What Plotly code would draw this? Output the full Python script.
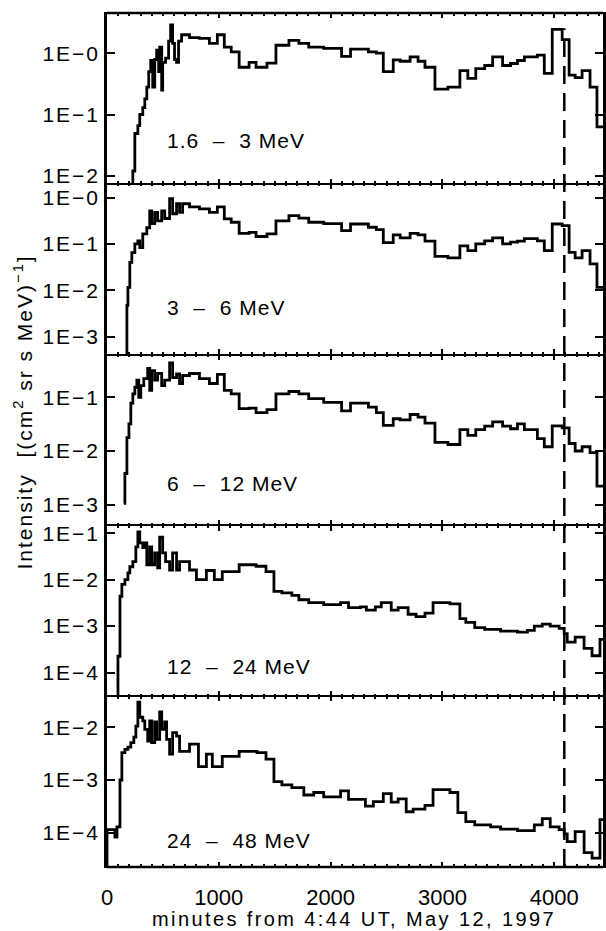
import plotly.graph_objects as go
from plotly.subplots import make_subplots

# Proton intensities, 1-hour-ish accumulation bins.
# t_* are bin edges in minutes (one more than the values), i_* the intensities.

t_1p6_3 = [187, 231, 249, 276, 293, 320, 338, 356, 373, 391, 409, 427, 444, 462, 471, 489, 498, 524,
           551, 569, 587, 604, 622, 640, 667, 738, 827, 916, 987, 1049, 1111, 1182, 1271, 1333, 1431,
           1511, 1627, 1716, 1804, 1938, 2098, 2178, 2338, 2409, 2471, 2560, 2622, 2711, 2782, 2844,
           2933, 3049, 3156, 3227, 3298, 3378, 3449, 3538, 3609, 3671, 3733, 3849, 3911, 3982, 4071,
           4133, 4187, 4249, 4320, 4382, 4470]
i_1p6_3 = [0.001, 0.012, 0.049, 0.066, 0.10, 0.13, 0.18, 0.28, 0.50, 0.76, 0.28, 0.79, 1.12, 0.50,
           1.26, 0.25, 0.71, 0.83, 1.58, 2.9, 1.45, 0.79, 0.71, 1.58, 2.0, 1.8, 1.74, 1.45, 2.0, 1.26,
           1.05, 0.59, 0.71, 0.59, 0.69, 1.35, 1.62, 1.45, 1.26, 1.2, 0.89, 1.17, 1.05, 1.0, 0.50, 0.78,
           0.74, 0.87, 0.74, 0.59, 0.26, 0.28, 0.52, 0.39, 0.56, 0.63, 0.87, 0.63, 0.68, 0.76, 0.87,
           0.93, 0.47, 2.45, 1.66, 0.44, 0.40, 0.52, 0.28, 0.063]

t_3_6 = [133, 178, 187, 204, 222, 249, 276, 293, 320, 356, 382, 400, 427, 453, 489, 516, 560, 587,
         622, 649, 676, 738, 827, 916, 987, 1049, 1111, 1182, 1271, 1333, 1431, 1511, 1627, 1716,
         1804, 1938, 2098, 2178, 2338, 2409, 2471, 2560, 2622, 2711, 2782, 2844, 2933, 3049, 3156,
         3227, 3298, 3378, 3449, 3538, 3609, 3671, 3733, 3849, 3911, 3982, 4071, 4133, 4187, 4249,
         4320, 4382, 4470]
i_3_6 = [1e-4, 0.0047, 0.0115, 0.04, 0.065, 0.1, 0.117, 0.083, 0.166, 0.224, 0.52, 0.275, 0.48,
         0.316, 0.52, 0.355, 0.95, 0.45, 0.74, 0.48, 0.74, 0.63, 0.575, 0.48, 0.63, 0.35, 0.295, 0.17,
         0.178, 0.145, 0.166, 0.316, 0.41, 0.363, 0.295, 0.275, 0.195, 0.27, 0.23, 0.204, 0.107,
         0.158, 0.135, 0.17, 0.158, 0.115, 0.054, 0.05, 0.091, 0.072, 0.1, 0.117, 0.135, 0.1, 0.11,
         0.115, 0.13, 0.117, 0.072, 0.27, 0.25, 0.066, 0.05, 0.072, 0.037, 0.0115]

t_6_12 = [151, 160, 178, 196, 213, 231, 249, 267, 284, 302, 329, 364, 382, 400, 427, 453, 489, 516,
          560, 587, 622, 649, 676, 738, 827, 916, 987, 1049, 1111, 1182, 1271, 1333, 1431, 1511,
          1627, 1716, 1804, 1938, 2098, 2178, 2338, 2409, 2471, 2560, 2622, 2711, 2782, 2844, 2933,
          3049, 3156, 3227, 3298, 3378, 3449, 3538, 3609, 3671, 3733, 3849, 3911, 3982, 4071, 4133,
          4187, 4249, 4320, 4382, 4470]
i_6_12 = [0.00105, 0.0038, 0.0178, 0.032, 0.078, 0.117, 0.155, 0.21, 0.1, 0.166, 0.224, 0.35,
          0.135, 0.316, 0.21, 0.28, 0.166, 0.21, 0.44, 0.234, 0.275, 0.182, 0.257, 0.28, 0.224,
          0.182, 0.27, 0.135, 0.117, 0.062, 0.063, 0.052, 0.059, 0.117, 0.129, 0.117, 0.095, 0.081,
          0.056, 0.078, 0.066, 0.052, 0.030, 0.04, 0.038, 0.048, 0.043, 0.033, 0.0145, 0.0132,
          0.025, 0.0195, 0.025, 0.029, 0.035, 0.029, 0.026, 0.032, 0.025, 0.017, 0.012, 0.0295,
          0.027, 0.0138, 0.01, 0.012, 0.0093, 0.0022]

t_12_24 = [53, 98, 116, 133, 160, 187, 204, 231, 258, 276, 293, 320, 338, 356, 382, 400, 427, 453,
           471, 498, 524, 560, 587, 622, 649, 738, 800, 889, 960, 1031, 1182, 1333, 1422, 1493,
           1564, 1653, 1716, 1804, 1938, 2089, 2160, 2267, 2320, 2400, 2453, 2542, 2604, 2693,
           2764, 2844, 2916, 3067, 3156, 3209, 3289, 3378, 3520, 3671, 3760, 3822, 3893, 3964,
           4044, 4089, 4116, 4187, 4267, 4338, 4409, 4470]
i_12_24 = [1e-5, 0.000224, 0.0044, 0.0079, 0.01, 0.0141, 0.019, 0.0245, 0.051, 0.107, 0.062,
           0.049, 0.062, 0.021, 0.051, 0.021, 0.038, 0.018, 0.083, 0.038, 0.0245, 0.0162, 0.038,
           0.0162, 0.0245, 0.0162, 0.01, 0.0158, 0.01, 0.015, 0.021, 0.0195, 0.015, 0.0056,
           0.0052, 0.0046, 0.0037, 0.0032, 0.0029, 0.0032, 0.0025, 0.0026, 0.0022, 0.0026, 0.0032,
           0.0022, 0.0025, 0.0018, 0.0016, 0.0019, 0.0032, 0.003, 0.00145, 0.0012, 0.00093,
           0.00085, 0.00078, 0.00074, 0.00081, 0.001, 0.0011, 0.001, 0.00089, 0.00069, 0.00045,
           0.00058, 0.00033, 0.00023, 0.00052]

t_24_48 = [-60, 0, 71, 89, 116, 133, 160, 187, 213, 240, 258, 276, 293, 320, 338, 364, 382, 400,
           427, 444, 471, 489, 516, 533, 560, 587, 622, 649, 738, 818, 889, 942, 1031, 1182, 1342,
           1422, 1493, 1564, 1653, 1760, 1849, 1938, 2089, 2160, 2311, 2382, 2471, 2542, 2604,
           2676, 2738, 2844, 2916, 3067, 3138, 3209, 3289, 3431, 3520, 3671, 3822, 3893, 3964,
           4044, 4089, 4116, 4187, 4267, 4338, 4409, 4470]
i_24_48 = [1e-5, 0.000115, 0.000083, 0.000129, 0.001, 0.0033, 0.0038, 0.0042, 0.0051, 0.0065,
           0.0105, 0.030, 0.0155, 0.0132, 0.0091, 0.0055, 0.0132, 0.0051, 0.0126, 0.0059, 0.0195,
           0.0091, 0.0126, 0.0059, 0.0031, 0.0079, 0.0068, 0.0035, 0.0048, 0.0018, 0.0031, 0.0018,
           0.0028, 0.0035, 0.0033, 0.0025, 0.00093, 0.00081, 0.00072, 0.00052, 0.00058, 0.00048,
           0.00062, 0.00043, 0.00032, 0.00039, 0.00055, 0.00038, 0.00044, 0.00025, 0.00028,
           0.00033, 0.00066, 0.00058, 0.00024, 0.000162, 0.000141, 0.000129, 0.000117, 0.00011,
           0.000141, 0.000186, 0.000129, 0.000115, 0.000095, 0.000068, 0.000105, 0.000042,
           0.000033, 0.000178]

channel_labels = ["1.6  \u2013  3 MeV", "3  \u2013  6 MeV", "6  \u2013  12 MeV",
                  "12  \u2013  24 MeV", "24  \u2013  48 MeV"]
series = [(t_1p6_3, i_1p6_3), (t_3_6, i_3_6), (t_6_12, i_6_12), (t_12_24, i_12_24), (t_24_48, i_24_48)]

# log10 limits of each panel and its labelled decades
y_ranges = [[-2.13, 0.656], [-3.39, 0.30], [-3.39, -0.2], [-4.51, -0.83], [-4.65, -1.41]]
y_decades = [[0, -1, -2], [0, -1, -2, -3], [-1, -2, -3], [-1, -2, -3, -4], [-2, -3, -4]]

shock_time = 4090
x_range = [0, 4436]

FONT = "Liberation Sans, Arial, sans-serif"
label_y = [0.851, 0.6546, 0.4496, 0.2342, 0.0316]


def spaced(s, px):
    return "<span style='letter-spacing:%spx'>%s</span>" % (px, s)


fig = make_subplots(rows=5, cols=1, shared_xaxes=True, vertical_spacing=0)

for k, ((t, v), yr, dec) in enumerate(zip(series, y_ranges, y_decades), start=1):
    fig.add_trace(go.Scatter(x=t, y=list(v) + [v[-1]], mode="lines",
                             line=dict(shape="hv", color="black", width=2.8),
                             showlegend=False, hoverinfo="skip"), row=k, col=1)
    fig.update_yaxes(type="log", range=yr,
                     tickvals=[10.0 ** d for d in dec],
                     ticktext=[spaced("1E\u2212%d" % (-d), 2) for d in dec],
                     row=k, col=1)

fig.update_yaxes(ticks="inside", ticklen=8, tickwidth=2, tickcolor="black",
                 showline=True, linewidth=2.5, linecolor="black",
                 mirror="ticks", showgrid=False, zeroline=False,
                 tickfont=dict(family=FONT, size=21, color="black"), ticklabelstandoff=0)

# adjacent panels each draw a thin frame edge; together they give one full-weight line
fig.update_xaxes(range=x_range, tickmode="linear", tick0=0, dtick=1000,
                 ticks="inside", ticklen=5, tickwidth=2,
                 tickcolor="black", showline=True, linewidth=1.3, linecolor="black",
                 mirror="ticks", showgrid=False, zeroline=False,
                 minor=dict(ticks="inside", dtick=100, tick0=0, ticklen=2.5, tickwidth=1.5,
                            tickcolor="black", showgrid=False),
                 tickfont=dict(family=FONT, size=22, color="black"), ticklabelstandoff=10)

annotations = []
for lab, yy in zip(channel_labels, label_y):
    annotations.append(dict(text=spaced(lab, 1), xref="paper", yref="paper", x=0.1162, y=yy,
                            xanchor="left", yanchor="middle", showarrow=False,
                            font=dict(family=FONT, size=21, color="black")))
annotations.append(dict(text=spaced("Intensity  [(cm<sup>2</sup> sr s MeV)<sup>\u22121</sup>]", 2),
                        xref="paper", yref="paper", x=-0.170, y=0.533, textangle=-90,
                        xanchor="center", yanchor="middle", showarrow=False,
                        font=dict(family=FONT, size=21, color="black")))
annotations.append(dict(text=spaced("minutes from 4:44 UT, May 12, 1997", 2.4),
                        xref="paper", yref="paper", x=0.497, y=-0.061,
                        xanchor="center", yanchor="middle", showarrow=False,
                        font=dict(family=FONT, size=20, color="black")))

shapes = [
    dict(type="line", xref="paper", yref="paper", x0=0, x1=1, y0=1, y1=1,
         line=dict(color="black", width=2.5)),
    dict(type="line", xref="paper", yref="paper", x0=0, x1=1, y0=0, y1=0,
         line=dict(color="black", width=2.5)),
    dict(type="line", xref="x", yref="paper", x0=shock_time, x1=shock_time, y0=0, y1=0.982,
         line=dict(color="black", width=2.5, dash="18px,9px")),
]

fig.update_layout(width=606, height=931, margin=dict(l=107, r=0, t=13, b=64),
                  paper_bgcolor="white", plot_bgcolor="white",
                  annotations=annotations, shapes=shapes, showlegend=False)

fig.write_html("out.html")
